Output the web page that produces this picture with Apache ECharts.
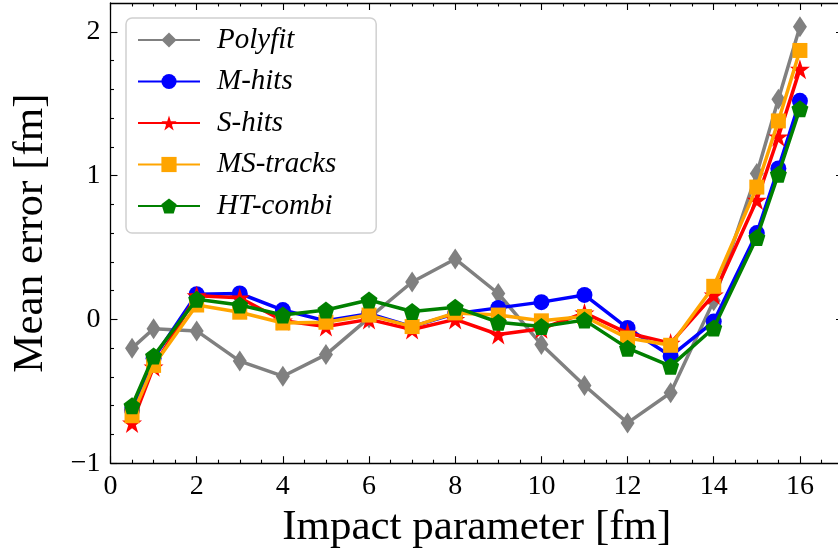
<!DOCTYPE html>
<html>
<head>
<meta charset="utf-8">
<script src="https://cdn.jsdelivr.net/npm/echarts@6/dist/echarts.min.js"></script>
<style>
html,body{margin:0;padding:0;background:#fff;}
#chart{width:838px;height:556px;}
</style>
</head>
<body>
<div id="chart"></div>
<script>
// ---- data ----
const impact = [0.5, 1, 2, 3, 4, 5, 6, 7, 8, 9, 10, 11, 12, 13, 14, 15, 15.5, 16];
const polyfit = [-0.20, -0.065, -0.08, -0.29, -0.395, -0.245, 0.01, 0.26, 0.42, 0.18, -0.175, -0.46, -0.72, -0.51, 0.13, 1.015, 1.53, 2.035];
const mHits   = [-0.63, -0.27, 0.175, 0.18, 0.065, -0.01, 0.04, -0.05, 0.04, 0.08, 0.12, 0.17, -0.06, -0.255, -0.015, 0.60, 1.05, 1.52];
const sHits   = [-0.72, -0.33, 0.165, 0.15, -0.01, -0.05, 0.0, -0.07, 0.0, -0.105, -0.065, 0.045, -0.095, -0.165, 0.17, 0.83, 1.27, 1.74];
const msTracks= [-0.67, -0.32, 0.10, 0.05, -0.025, -0.02, 0.03, -0.05, 0.045, 0.03, -0.01, 0.02, -0.13, -0.18, 0.23, 0.92, 1.38, 1.87];
const htCombi = [-0.60, -0.255, 0.14, 0.10, 0.03, 0.065, 0.135, 0.055, 0.085, -0.02, -0.05, -0.005, -0.20, -0.325, -0.06, 0.57, 1.01, 1.465];
const seriesNames = ['Polyfit', 'M-hits', 'S-hits', 'MS-tracks', 'HT-combi'];
const xTickLabels = [0, 2, 4, 6, 8, 10, 12, 14, 16];
const yTickLabels = [-1, 0, 1, 2];
const xMinorTicks = [0.5,1,1.5,2.5,3,3.5,4.5,5,5.5,6.5,7,7.5,8.5,9,9.5,10.5,11,11.5,12.5,13,13.5,14.5,15,15.5,16.5];
const yMinorTicks = [-0.8,-0.6,-0.4,-0.2,0.2,0.4,0.6,0.8,1.2,1.4,1.6,1.8];

const X_MIN = 0, X_MAX = 17, Y_MIN = -1, Y_MAX = 2.2;
const FONT = "'Liberation Serif', 'DejaVu Serif', serif";

const colors = ['#808080', '#0000ff', '#ff0000', '#ffa500', '#008000'];
const symbols = [
  'path://M0,-100L65,0L0,100L-65,0Z',
  'circle',
  'path://M0,-100L22.4,-30.8L95.1,-30.9L36.2,11.8L58.8,80.9L0,38.1L-58.8,80.9L-36.2,11.8L-95.1,-30.9L-22.4,-30.8Z',
  'rect',
  'path://M0,-100L95.1,-30.9L58.8,80.9L-58.8,80.9L-95.1,-30.9Z'
];
const symbolSizes = [[14, 21], 16, 20, 15, 17];
const values = [polyfit, mHits, sHits, msTracks, htCombi];

function xAxisDef(position, ticks, len, showLabel, showLine) {
  return {
    type: 'value', position: position, min: X_MIN, max: X_MAX,
    axisLine: {show: showLine, onZero: false, lineStyle: {color: '#000', width: 1.3}},
    axisTick: {show: true, inside: true, length: len, customValues: ticks, lineStyle: {color: '#000', width: 1.1}},
    axisLabel: {show: showLabel, customValues: xTickLabels, margin: 9, fontFamily: FONT, fontSize: 28, color: '#000'},
    splitLine: {show: false},
    name: showLabel ? 'Impact parameter [fm]' : '',
    nameLocation: 'middle', nameGap: 43,
    nameTextStyle: {fontFamily: FONT, fontSize: 43, color: '#000'}
  };
}
function yAxisDef(position, ticks, len, showLabel, showLine) {
  return {
    type: 'value', position: position, min: Y_MIN, max: Y_MAX,
    axisLine: {show: showLine, onZero: false, lineStyle: {color: '#000', width: 1.3}},
    axisTick: {show: true, inside: true, length: len, customValues: ticks, lineStyle: {color: '#000', width: 1.1}},
    axisLabel: {show: showLabel, customValues: yTickLabels, margin: 10, fontFamily: FONT, fontSize: 28, color: '#000',
      formatter: v => String(v).replace('-', '\u2212')},
    splitLine: {show: false},
    name: showLabel ? 'Mean error [fm]' : '',
    nameLocation: 'middle', nameGap: 58, nameRotate: 90,
    nameTextStyle: {fontFamily: FONT, fontSize: 43, color: '#000'}
  };
}

const series = seriesNames.map((name, i) => ({
  name: name,
  type: 'line',
  xAxisIndex: 0, yAxisIndex: 0,
  data: impact.map((x, j) => [x, values[i][j]]),
  symbol: symbols[i],
  symbolSize: symbolSizes[i],
  showAllSymbol: true,
  lineStyle: {color: colors[i], width: 3.5},
  itemStyle: {color: colors[i], borderWidth: 0},
  emphasis: {disabled: true},
  animation: false,
  z: 2 + i
}));

const chart = echarts.init(document.getElementById('chart'), null, {renderer: 'canvas'});
chart.setOption({
  animation: false,
  backgroundColor: '#fff',
  grid: {left: 110.5, right: -5, top: 3, bottom: 92.8, containLabel: false, outerBoundsMode: 'none'},
  xAxis: [
    xAxisDef('bottom', xTickLabels, 7, true, true),
    xAxisDef('bottom', xMinorTicks, 3.5, false, false),
    xAxisDef('top', xTickLabels, 7, false, true),
    xAxisDef('top', xMinorTicks, 3.5, false, false)
  ],
  yAxis: [
    yAxisDef('left', yTickLabels, 7, true, true),
    yAxisDef('left', yMinorTicks, 3.5, false, false),
    yAxisDef('right', yTickLabels, 7, false, true),
    yAxisDef('right', yMinorTicks, 3.5, false, false)
  ],
  legend: {
    orient: 'vertical',
    left: 126, top: 18,
    padding: [7, 40, 12, 11],
    itemWidth: 62, itemHeight: 19, itemGap: 11.5,
    backgroundColor: 'rgba(255,255,255,0.85)',
    borderColor: '#d0d0d0', borderWidth: 1.5, borderRadius: 6,
    textStyle: {fontFamily: FONT, fontStyle: 'italic', fontSize: 29, color: '#000', padding: [0, 0, 0, 12], lineHeight: 30},
    data: seriesNames
  },
  series: series
});
</script>
</body>
</html>
